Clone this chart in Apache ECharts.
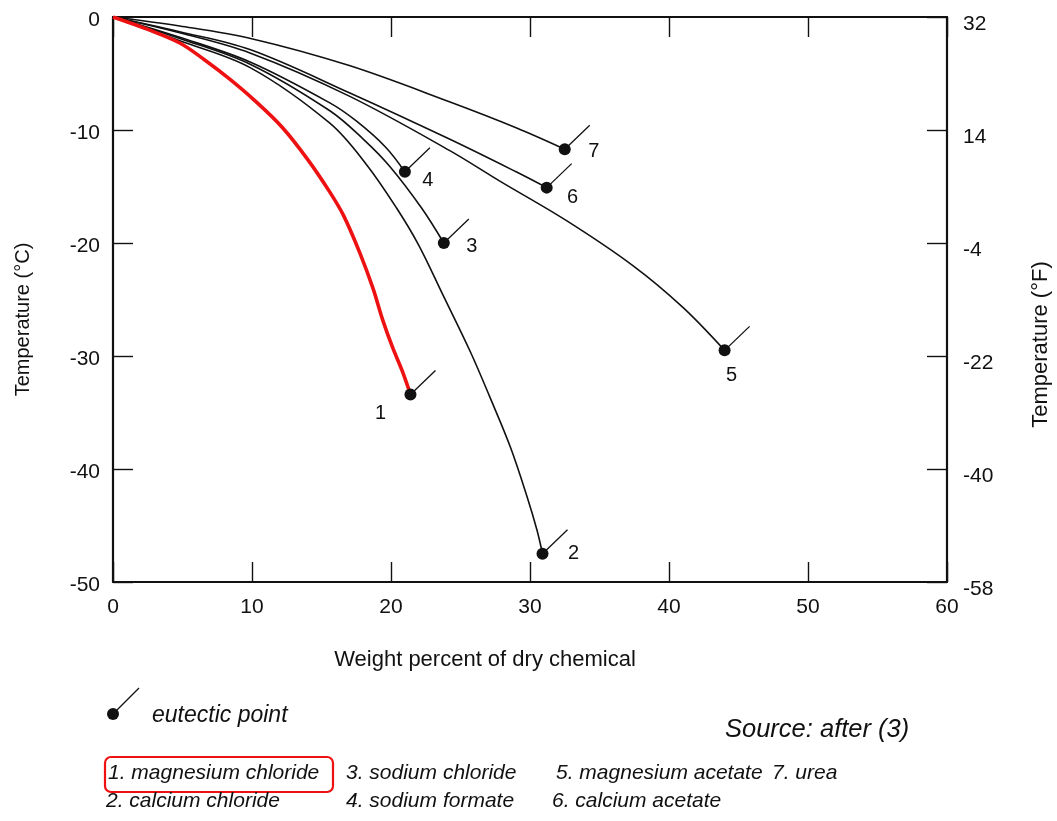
<!DOCTYPE html>
<html>
<head>
<meta charset="utf-8">
<script src="https://cdn.jsdelivr.net/npm/echarts@6/dist/echarts.min.js"></script>
<style>
  html, body { margin: 0; padding: 0; background: #ffffff; }
  #chart { width: 1057px; height: 821px; }
</style>
</head>
<body>
<div id="chart"></div>
<script>
// Freezing-point curves of de-icing chemicals: [weight %, temperature °C]
const seriesNames = [
  'magnesium chloride', 'calcium chloride', 'sodium chloride', 'sodium formate',
  'magnesium acetate', 'calcium acetate', 'urea'
];
const magnesiumChloride = [[0,0],[2.5,-1.1],[4.8,-2.3],[6.6,-3.8],[8.4,-5.5],[10.2,-7.4],[12.2,-9.8],[14.0,-12.6],[15.6,-15.5],[16.6,-17.6],[17.8,-21.0],[18.7,-24.0],[19.4,-26.8],[20.1,-29.2],[20.8,-31.3],[21.4,-33.4]];
const calciumChloride = [[0,0],[4.8,-2.1],[9.9,-4.5],[15.6,-9.4],[18.2,-13.0],[20.4,-16.9],[22.0,-20.2],[23.7,-24.5],[25.7,-29.6],[27.1,-33.6],[28.6,-38.1],[29.8,-42.5],[30.5,-45.4],[30.9,-47.5]];
const sodiumChloride = [[0,0],[4.8,-1.9],[9.9,-4.2],[15.6,-8.3],[18.0,-10.8],[19.9,-13.2],[22.2,-16.9],[23.8,-20.0]];
const sodiumFormate = [[0,0],[4.8,-1.8],[9.9,-4.0],[15.6,-7.6],[17.5,-9.2],[19.6,-11.5],[21.0,-13.7]];
const magnesiumAcetate = [[0,0],[4.8,-1.4],[9.9,-3.2],[17.0,-7.0],[24.2,-11.8],[27.8,-14.5],[32.6,-18.0],[37.4,-22.0],[41.0,-25.7],[44.0,-29.5]];
const calciumAcetate = [[0,0],[4.8,-1.3],[9.9,-2.9],[17.0,-6.7],[24.2,-10.8],[29.0,-13.7],[31.2,-15.1]];
const urea = [[0,0],[4.8,-0.8],[9.9,-1.9],[17.0,-4.3],[24.2,-7.5],[29.0,-9.8],[32.5,-11.7]];

const curves = [magnesiumChloride, calciumChloride, sodiumChloride, sodiumFormate, magnesiumAcetate, calciumAcetate, urea];
const curveNumbers = ['1', '2', '3', '4', '5', '6', '7'];

// Axis ranges
const weightRange = [0, 60, 10];
const celsiusRange = [-50, 0, 10];

// Placement of the curve number next to each eutectic dot (pixels)
const numberOffsets = [[-30, 19], [31, 0], [28, 3], [23, 9], [7, 25], [26, 10], [29, 2]];

const FONT = '"Liberation Sans", Arial, Helvetica, sans-serif';
const INK = '#111111';
const RED = '#ee1111';

const chart = echarts.init(document.getElementById('chart'));

const axisCommon = {
  axisLine: { show: true, onZero: false, lineStyle: { color: INK, width: 2.2 } },
  axisTick: { show: true, inside: true, length: 20, lineStyle: { color: INK, width: 1.4 } },
  splitLine: { show: false },
};

const lineSeries = curves.map((data, i) => ({
  type: 'line',
  name: seriesNames[i],
  data: data,
  showSymbol: false,
  smooth: 0.35,
  lineStyle: { color: i === 0 ? RED : INK, width: i === 0 ? 3.6 : 1.6 },
  z: i === 0 ? 4 : 3,
  silent: true,
}));

const eutecticSeries = {
  type: 'custom',
  data: curves.map((c, i) => [c[c.length - 1][0], c[c.length - 1][1], i]),
  z: 6,
  silent: true,
  renderItem: function (params, api) {
    const p = api.coord([api.value(0), api.value(1)]);
    const idx = api.value(2);
    const off = numberOffsets[idx];
    return {
      type: 'group',
      children: [
        { type: 'line', shape: { x1: p[0], y1: p[1], x2: p[0] + 25, y2: p[1] - 24 },
          style: { stroke: INK, lineWidth: 1.3 } },
        { type: 'circle', shape: { cx: p[0], cy: p[1], r: 6 }, style: { fill: INK } },
        { type: 'text', x: p[0] + off[0], y: p[1] + off[1],
          style: { text: curveNumbers[idx], font: '20px ' + FONT, fill: INK,
                   align: 'center', verticalAlign: 'middle' } }
      ]
    };
  }
};

// Key below the plot
const keyRows = [775, 803];
const keyLefts = [108, 106, 346, 346, 556, 552, 772];
const keyItems = seriesNames.map((name, i) => ({
  type: 'text',
  left: keyLefts[i],
  top: keyRows[i % 2] - 12,
  style: { text: curveNumbers[i] + '. ' + name, font: 'italic 21px ' + FONT, fill: INK }
}));

chart.setOption({
  animation: false,
  backgroundColor: '#ffffff',
  grid: { left: 113, right: 110, top: 17, bottom: 239, containLabel: false, outerBoundsMode: 'none' },
  xAxis: [
    Object.assign({}, axisCommon, {
      type: 'value', position: 'bottom',
      min: weightRange[0], max: weightRange[1], interval: weightRange[2],
      name: 'Weight percent of dry chemical',
      nameLocation: 'middle', nameGap: 67,
      nameTextStyle: { fontFamily: FONT, fontSize: 22, color: INK, padding: [0, 90, 0, 0] },
      axisLabel: { fontFamily: FONT, fontSize: 21, color: INK, margin: 15 }
    }),
    Object.assign({}, axisCommon, {
      type: 'value', position: 'top',
      min: weightRange[0], max: weightRange[1], interval: weightRange[2],
      axisLabel: { show: false }
    })
  ],
  yAxis: [
    Object.assign({}, axisCommon, {
      type: 'value', position: 'left',
      min: celsiusRange[0], max: celsiusRange[1], interval: celsiusRange[2],
      name: 'Temperature (°C)',
      nameLocation: 'middle', nameGap: 80, nameRotate: 90,
      nameTextStyle: { fontFamily: FONT, fontSize: 20, color: INK, padding: [0, 40, 0, 0] },
      axisLabel: {
        fontFamily: FONT, fontSize: 21, color: INK, margin: 13,
        formatter: v => '{t|' + v + '}',
        rich: { t: { fontFamily: FONT, fontSize: 21, color: INK, padding: [6, 0, 0, 0] } }
      }
    }),
    Object.assign({}, axisCommon, {
      type: 'value', position: 'right',
      min: celsiusRange[0], max: celsiusRange[1], interval: celsiusRange[2],
      name: 'Temperature (°F)',
      nameLocation: 'middle', nameGap: 83, nameRotate: 90,
      nameTextStyle: { fontFamily: FONT, fontSize: 22, color: INK, padding: [0, 90, 0, 0] },
      axisLabel: {
        fontFamily: FONT, fontSize: 21, color: INK, margin: 16,
        formatter: v => '{t|' + Math.round(v * 1.8 + 32) + '}',
        rich: { t: { fontFamily: FONT, fontSize: 21, color: INK, padding: [14, 0, 0, 0] } }
      }
    })
  ],
  series: lineSeries.concat([eutecticSeries]),
  graphic: [
    // eutectic point key symbol
    { type: 'line', shape: { x1: 113, y1: 714, x2: 139, y2: 688 }, style: { stroke: INK, lineWidth: 1.3 } },
    { type: 'circle', shape: { cx: 113, cy: 714, r: 6 }, style: { fill: INK } },
    { type: 'text', left: 152, top: 704, style: { text: 'eutectic point', font: 'italic 23px ' + FONT, fill: INK } },
    { type: 'text', left: 725, top: 717, style: { text: 'Source: after (3)', font: 'italic 25.5px ' + FONT, fill: INK } },
    // highlight box around the first key entry
    { type: 'rect', shape: { x: 105, y: 757, width: 228, height: 35, r: 6 },
      style: { fill: 'none', stroke: RED, lineWidth: 2.2 } }
  ].concat(keyItems)
});
</script>
</body>
</html>
